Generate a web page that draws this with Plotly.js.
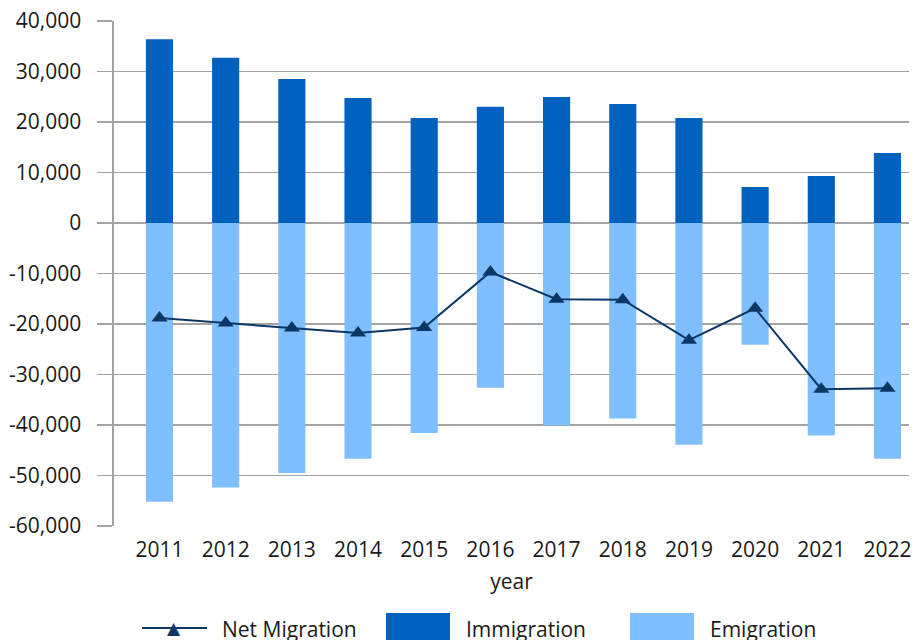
<!DOCTYPE html>
<html>
<head>
<meta charset="utf-8">
<script src="https://cdn.plot.ly/plotly-3.0.1.min.js"></script>
<style>html,body{margin:0;padding:0;background:#fff;}#chart{width:915px;height:640px;}</style>
</head>
<body>
<div id="chart"></div>
<script>
const years = ["2011","2012","2013","2014","2015","2016","2017","2018","2019","2020","2021","2022"];
const immigration = [36400, 32700, 28500, 24750, 20800, 23000, 24950, 23560, 20800, 7130, 9300, 13860];
const emigration = [-55200, -52400, -49500, -46700, -41600, -32600, -40100, -38700, -43900, -24100, -42100, -46700];
const netMigration = [-18800, -19800, -20800, -21800, -20700, -9700, -15100, -15200, -23200, -16900, -32900, -32700];
const yTicks = [40000, 30000, 20000, 10000, 0, -10000, -20000, -30000, -40000, -50000, -60000];
const yTickText = ["40,000","30,000","20,000","10,000","0","-10,000","-20,000","-30,000","-40,000","-50,000","-60,000"];

const cImm = '#0061BF', cEmi = '#80BFFF', cNet = '#0A3766';
const fontFam = '"Open Sans", "Noto Sans", sans-serif';
const txt = '#1a1a1a';

const traces = [
  {type:'bar', name:'Immigration', x:years, y:immigration, marker:{color:cImm}, width:0.41, showlegend:false},
  {type:'bar', name:'Emigration', x:years, y:emigration, marker:{color:cEmi}, width:0.41, showlegend:false},
  {type:'scatter', mode:'lines+markers', name:'Net Migration', x:years, y:netMigration,
   line:{color:cNet, width:2}, marker:{symbol:'triangle-up', size:14, color:cNet}, showlegend:false}
];

// legend (drawn in paper coordinates); plot area spans 114..909 px horizontally, 21..526 vertically
const px = v => (v - 114) / 795;
const py = v => (526 - v) / 505;
const shapes = [
  {type:'line', xref:'paper', yref:'paper', x0:px(142), x1:px(207), y0:py(628), y1:py(628), line:{color:cNet, width:2}},
  {type:'rect', xref:'paper', yref:'paper', x0:px(386), x1:px(450), y0:py(613), y1:py(650), fillcolor:cImm, line:{width:0}},
  {type:'rect', xref:'paper', yref:'paper', x0:px(630), x1:px(694), y0:py(613), y1:py(650), fillcolor:cEmi, line:{width:0}}
];
const annotations = [
  {xref:'paper', yref:'paper', x:px(174), y:py(628), text:'▲', showarrow:false, font:{size:17, color:cNet, family:'"DejaVu Sans", sans-serif'}, xanchor:'center', yanchor:'middle'},
  {xref:'paper', yref:'paper', x:px(220), y:py(629), text:'Net Migration', showarrow:false, xanchor:'left', yanchor:'middle', font:{size:21, color:txt, family:fontFam}},
  {xref:'paper', yref:'paper', x:px(464), y:py(629), text:'Immigration', showarrow:false, xanchor:'left', yanchor:'middle', font:{size:21, color:txt, family:fontFam}},
  {xref:'paper', yref:'paper', x:px(708), y:py(629), text:'Emigration', showarrow:false, xanchor:'left', yanchor:'middle', font:{size:21, color:txt, family:fontFam}}
];

const layout = {
  width:915, height:640,
  margin:{l:114, r:6, t:21, b:114},
  paper_bgcolor:'#fff', plot_bgcolor:'#fff',
  font:{family:fontFam, size:21, color:txt},
  barmode:'relative',
  showlegend:false,
  xaxis:{type:'category', range:[-0.687, 11.325], showgrid:false, ticks:'', showline:false, zeroline:false,
         title:{text:'year', font:{size:21, color:txt}, standoff:12}, tickfont:{size:21, color:txt}, ticklabelstandoff:9},
  yaxis:{range:[-60000, 40000], tickvals:yTicks, ticktext:yTickText, showgrid:true, gridcolor:'#A3A3A3', gridwidth:1.6,
         zeroline:false, showline:true, linecolor:'#A3A3A3', linewidth:1.6, ticks:'outside', ticklen:15, tickcolor:'#A3A3A3', tickwidth:1.6,
         tickfont:{size:21, color:txt}, ticklabelstandoff:12},
  shapes:shapes, annotations:annotations
};
Plotly.newPlot('chart', traces, layout, {staticPlot:true, displayModeBar:false});
</script>
</body>
</html>
